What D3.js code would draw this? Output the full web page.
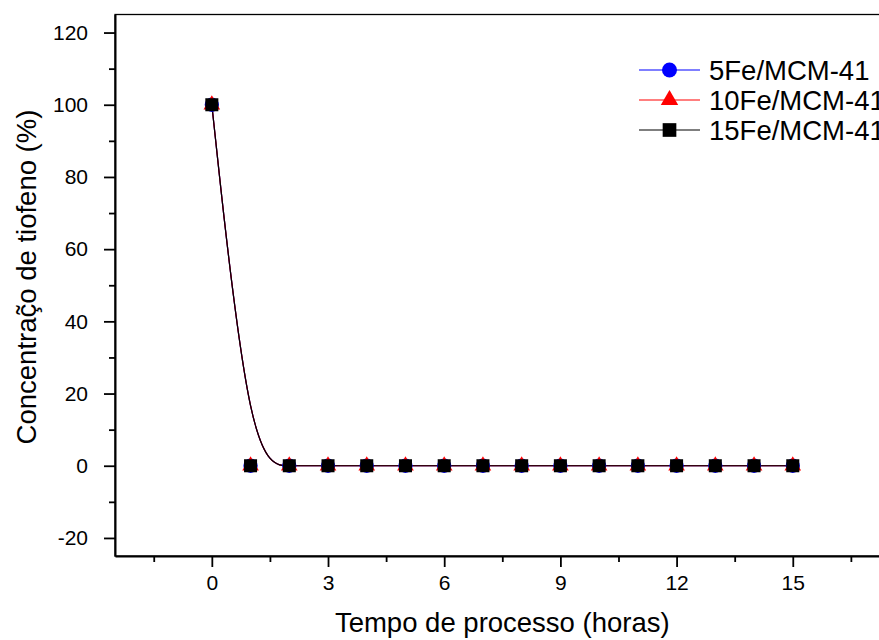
<!DOCTYPE html>
<html>
<head>
<meta charset="utf-8">
<script src="https://cdn.jsdelivr.net/npm/d3@7"></script>
<style>
  html, body { margin: 0; padding: 0; background: #fff; }
  svg { display: block; font-family: "Liberation Sans", Arial, Helvetica, sans-serif; }
</style>
</head>
<body>
<svg id="chart" width="879" height="640"></svg>
<script>
// ---- data ----
const hours = [0, 1, 2, 3, 4, 5, 6, 7, 8, 9, 10, 11, 12, 13, 14, 15];
const fe5  = [100, 0, 0, 0, 0, 0, 0, 0, 0, 0, 0, 0, 0, 0, 0, 0];
const fe10 = [100, 0, 0, 0, 0, 0, 0, 0, 0, 0, 0, 0, 0, 0, 0, 0];
const fe15 = [100, 0, 0, 0, 0, 0, 0, 0, 0, 0, 0, 0, 0, 0, 0, 0];
const seriesNames = ["5Fe/MCM-41", "10Fe/MCM-41", "15Fe/MCM-41"];
const xMajorTicks = [0, 3, 6, 9, 12, 15];
const xMinorTicks = [-1.5, 1.5, 4.5, 7.5, 10.5, 13.5, 16.5];
const yMajorTicks = [-20, 0, 20, 40, 60, 80, 100, 120];
const yMinorTicks = [-10, 10, 30, 50, 70, 90, 110];
const xTitle = "Tempo de processo (horas)";
const yTitle = "Concentraç\u0303o de tiofeno (%)";

// ---- layout ----
const svg = d3.select("#chart");
const pLeft = 115, pRight = 889.6, pTop = 14.5, pBottom = 556;
const x = d3.scaleLinear().domain([-2.5, 17.5]).range([pLeft, pRight]);
const y = d3.scaleLinear().domain([-25, 125]).range([pBottom, pTop]);

const series = [
  { name: seriesNames[0], values: fe5,  color: "#0000ff", symbol: d3.symbolCircle,   size: 160 },
  { name: seriesNames[1], values: fe10, color: "#ff0000", symbol: d3.symbolTriangle, size: 120 },
  { name: seriesNames[2], values: fe15, color: "#000000", symbol: d3.symbolSquare,   size: 170 }
];

// frame (top / right)
svg.append("rect")
  .attr("x", pLeft).attr("y", pTop)
  .attr("width", pRight - pLeft).attr("height", pBottom - pTop)
  .attr("fill", "none").attr("stroke", "#000").attr("stroke-width", 1.3);

// lines
const line = d3.line()
  .x((d, i) => x(hours[i]))
  .y(d => y(d))
  .curve(d3.curveBasis);

const plot = svg.append("g");
series.forEach(s => {
  plot.append("path")
    .datum(s.values)
    .attr("d", line)
    .attr("fill", "none")
    .attr("stroke", s.color)
    .attr("stroke-width", 1.2);
});
series.forEach(s => {
  plot.selectAll(null)
    .data(s.values)
    .join("path")
    .attr("transform", (d, i) => `translate(${x(hours[i])},${y(d)})`)
    .attr("d", d3.symbol().type(s.symbol).size(s.size))
    .attr("fill", s.color);
});

// axes
const fmt = d => String(d);
svg.append("g").attr("transform", `translate(0,${pBottom})`)
  .call(d3.axisBottom(x).tickValues(xMajorTicks).tickSize(11).tickPadding(8).tickSizeOuter(0).tickFormat(fmt));
svg.append("g").attr("transform", `translate(0,${pBottom})`)
  .call(d3.axisBottom(x).tickValues(xMinorTicks).tickSize(6).tickSizeOuter(0).tickFormat(""))
  .select(".domain").remove();
svg.append("g").attr("transform", `translate(${pLeft},0)`)
  .call(d3.axisLeft(y).tickValues(yMajorTicks).tickSize(11).tickPadding(16).tickSizeOuter(0).tickFormat(fmt));
svg.append("g").attr("transform", `translate(${pLeft},0)`)
  .call(d3.axisLeft(y).tickValues(yMinorTicks).tickSize(6).tickSizeOuter(0).tickFormat(""))
  .select(".domain").remove();

svg.selectAll(".domain").attr("stroke", "#000").attr("stroke-width", 2);
svg.selectAll(".tick line").attr("stroke", "#000").attr("stroke-width", 1.8);
svg.selectAll(".tick text")
  .attr("fill", "#000")
  .style("font-size", "21px")
  .style("font-family", "'Liberation Sans', Arial, Helvetica, sans-serif");

// titles
svg.append("text")
  .attr("x", (pLeft + pRight) / 2).attr("y", 632)
  .attr("text-anchor", "middle")
  .style("font-size", "27.5px")
  .attr("fill", "#000")
  .text(xTitle);
svg.append("text")
  .attr("transform", `translate(36,${277}) rotate(-90)`)
  .attr("text-anchor", "middle")
  .style("font-size", "27.5px")
  .attr("fill", "#000")
  .text(yTitle);

// legend
const legend = svg.append("g");
const legY = [70, 100, 130];
series.forEach((s, i) => {
  const g = legend.append("g").attr("transform", `translate(0,${legY[i]})`);
  g.append("line").attr("x1", 639).attr("x2", 700).attr("y1", 0).attr("y2", 0)
    .attr("stroke", s.color).attr("stroke-width", 1.1);
  g.append("path").attr("transform", "translate(669.5,0)")
    .attr("d", d3.symbol().type(s.symbol).size(s.size * 1.1))
    .attr("fill", s.color);
  g.append("text").attr("x", 709).attr("y", 0).attr("dy", "0.35em")
    .style("font-size", "27.5px").attr("fill", "#000")
    .text(s.name);
});
</script>
</body>
</html>
